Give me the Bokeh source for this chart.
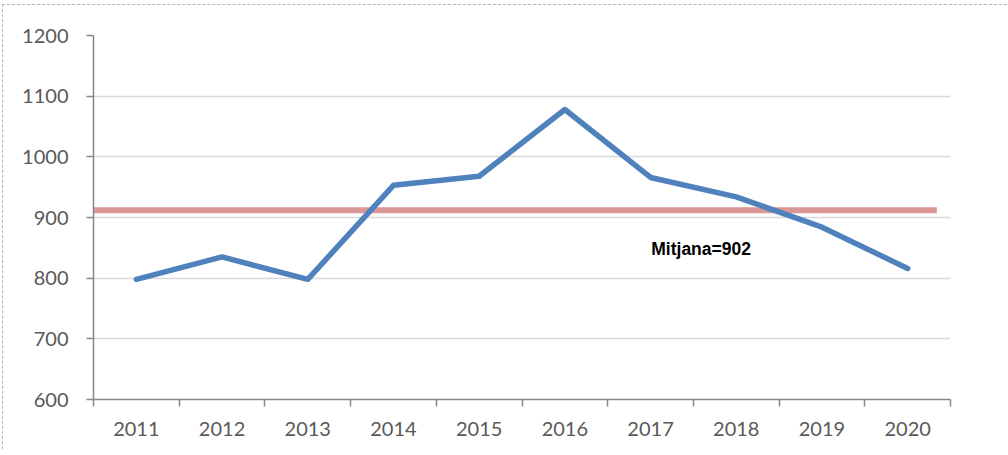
from bokeh.plotting import figure
from bokeh.models import FixedTicker, Range1d, ColumnDataSource
from bokeh.core.properties import value
from bokeh.embed import file_html
from bokeh.resources import INLINE

# ---- data ----
years = ["2011", "2012", "2013", "2014", "2015", "2016", "2017", "2018", "2019", "2020"]
counts = [798, 835, 798, 953, 968, 1078, 966, 934, 884, 816]
mean_label = "Mitjana=902"
mean_line_level = 912
y_ticks = [600, 700, 800, 900, 1000, 1100, 1200]

xs = [i + 0.5 for i in range(len(years))]

p = figure(width=1005, height=445, output_backend="svg", toolbar_location=None,
           x_range=Range1d(0, len(years)), y_range=Range1d(600, 1200),
           min_border_left=90, min_border_right=58, min_border_top=30, min_border_bottom=51)
p.styles = {"position": "relative", "left": "2px", "top": "4px",
            "border-left": "1px dashed #b4b4b4", "border-top": "1px dashed #b4b4b4"}
p.outline_line_color = None
p.background_fill_color = "white"
p.border_fill_color = "white"

# grid
p.xgrid.grid_line_color = None
p.ygrid.grid_line_color = "#d9d9d9"
p.ygrid.grid_line_width = 1.5

# y axis
p.yaxis.ticker = FixedTicker(ticks=y_ticks)
p.yaxis.axis_line_color = "#868686"
p.yaxis.axis_line_width = 1.5
p.yaxis.major_tick_line_color = "#868686"
p.yaxis.major_tick_line_width = 1.5
p.yaxis.major_tick_out = 7
p.yaxis.major_tick_in = 0
p.yaxis.minor_tick_line_color = None
p.yaxis.major_label_text_font = "Lato"
p.yaxis.major_label_text_font_size = "20px"
p.yaxis.major_label_text_color = "#595959"
p.yaxis.major_label_standoff = 18

# x axis: labels at centres, ticks at boundaries
p.xaxis.ticker = FixedTicker(ticks=xs, minor_ticks=list(range(len(years) + 1)))
p.xaxis.major_label_overrides = {x: y for x, y in zip(xs, years)}
p.xaxis.axis_line_color = "#868686"
p.xaxis.axis_line_width = 1.5
p.xaxis.major_tick_line_color = None
p.xaxis.major_tick_out = 0
p.xaxis.major_tick_in = 0
p.xaxis.minor_tick_line_color = "#868686"
p.xaxis.minor_tick_line_width = 1.5
p.xaxis.minor_tick_out = 7
p.xaxis.minor_tick_in = 0
p.xaxis.major_label_text_font = "Lato"
p.xaxis.major_label_text_font_size = "20px"
p.xaxis.major_label_text_color = "#595959"
p.xaxis.major_label_standoff = 15

# mean line
p.segment(x0=[0], x1=[len(years) - 0.16], y0=[mean_line_level], y1=[mean_line_level],
          line_color="#d99694", line_width=6)

# series
src = ColumnDataSource(dict(x=xs, y=counts))
p.line("x", "y", source=src, line_color="#4f81bd", line_width=5.5,
       line_cap="round", line_join="round")

# label
p.text(x=[7.09], y=[848], text=[mean_label], text_font=value("Liberation Sans"),
       text_font_style="bold", text_font_size="17.5px", text_color="black",
       text_align="center", text_baseline="middle")

open("out.html", "w").write(file_html(p, INLINE))
